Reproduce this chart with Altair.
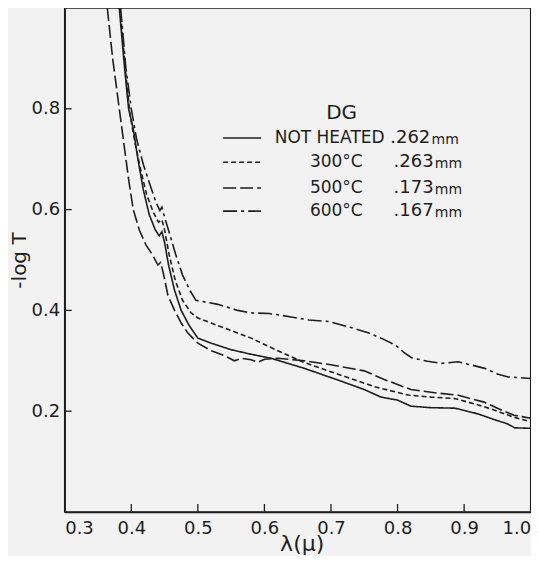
import altair as alt
import pandas as pd

# ---- curve data ----
sol_x = [0.382,0.390,0.396,0.403,0.410,0.418,0.427,0.436,0.442,0.446,0.450,0.456,0.465,0.475,0.487,0.500,0.520,0.550,0.580,0.610,0.660,0.710,0.750,0.775,0.800,0.820,0.850,0.886,0.920,0.946,0.965,0.976,1.000]
sol_y = [1.000,0.880,0.800,0.760,0.700,0.640,0.590,0.560,0.548,0.556,0.535,0.490,0.440,0.400,0.370,0.345,0.335,0.322,0.313,0.305,0.285,0.262,0.243,0.228,0.222,0.210,0.207,0.206,0.195,0.183,0.175,0.167,0.166]

sd_x = [0.383,0.391,0.398,0.406,0.414,0.423,0.433,0.441,0.446,0.450,0.457,0.466,0.477,0.490,0.500,0.520,0.550,0.580,0.607,0.657,0.707,0.767,0.816,0.850,0.886,0.920,0.946,0.975,1.000]
sd_y = [1.000,0.880,0.790,0.730,0.680,0.630,0.595,0.575,0.580,0.560,0.510,0.460,0.420,0.395,0.385,0.375,0.360,0.345,0.328,0.298,0.275,0.248,0.232,0.228,0.225,0.213,0.202,0.188,0.179]

ld_x = [0.364,0.372,0.380,0.388,0.396,0.403,0.412,0.422,0.432,0.440,0.444,0.448,0.455,0.465,0.475,0.485,0.500,0.520,0.540,0.555,0.565,0.580,0.590,0.600,0.620,0.660,0.700,0.750,0.780,0.820,0.860,0.890,0.930,0.960,0.975,1.000]
ld_y = [1.000,0.900,0.820,0.740,0.660,0.600,0.560,0.530,0.510,0.490,0.495,0.475,0.430,0.400,0.375,0.355,0.335,0.320,0.310,0.300,0.305,0.302,0.297,0.303,0.305,0.300,0.292,0.280,0.263,0.243,0.236,0.232,0.218,0.200,0.192,0.186]

dd_x = [0.384,0.392,0.400,0.408,0.418,0.428,0.437,0.443,0.446,0.450,0.458,0.467,0.477,0.488,0.497,0.505,0.530,0.560,0.580,0.607,0.640,0.667,0.697,0.730,0.757,0.780,0.797,0.810,0.821,0.845,0.866,0.891,0.910,0.931,0.950,0.966,1.000]
dd_y = [1.000,0.880,0.800,0.740,0.690,0.650,0.615,0.598,0.605,0.585,0.550,0.510,0.470,0.440,0.420,0.418,0.412,0.400,0.395,0.394,0.387,0.381,0.378,0.366,0.355,0.342,0.331,0.316,0.306,0.299,0.295,0.298,0.292,0.285,0.274,0.268,0.265]

series_names = ["NOT HEATED", "300°C", "500°C", "600°C"]
thickness = [".262", ".263", ".173", ".167"]
x_ticks = [0.3, 0.4, 0.5, 0.6, 0.7, 0.8, 0.9, 1.0]
y_ticks = [0.2, 0.4, 0.6, 0.8]

rows = []
for name, xs_, ys_ in zip(series_names, [sol_x, sd_x, ld_x, dd_x], [sol_y, sd_y, ld_y, dd_y]):
    for xv, yv in zip(xs_, ys_):
        rows.append({"series": name, "x": xv, "y": yv})
df = pd.DataFrame(rows)

INK = "#1e1e1e"
FONT = "DejaVu Sans"
W, H = 466, 504

dash_scale = alt.Scale(domain=series_names, range=[[1, 0], [5, 3], [13, 4], [14, 4, 3, 4]])
xs = alt.Scale(domain=[0.3, 1.0], nice=False)
ys = alt.Scale(domain=[0.0, 1.0], nice=False)

lines = alt.Chart(df).mark_line(strokeWidth=1.6, color=INK, clip=True).encode(
    x=alt.X("x:Q", scale=xs, axis=alt.Axis(
        values=x_ticks, format=".1f", ticks=False, grid=False,
        labelFontSize=18, labelFont=FONT, labelColor=INK, labelPadding=7,
        domainColor=INK, domainWidth=1.5,
        title="λ(μ)", titleFont=FONT, titleFontSize=22, titleFontWeight="normal",
        titleColor=INK, titleX=237, titleY=31, titleBaseline="middle")),
    y=alt.Y("y:Q", scale=ys, axis=alt.Axis(
        values=y_ticks, format=".1f", ticks=False, grid=False,
        labelFontSize=18, labelFont=FONT, labelColor=INK, labelPadding=5,
        domainColor=INK, domainWidth=1.5,
        title="-log T", titleFont=FONT, titleFontSize=20, titleFontWeight="normal",
        titleColor=INK, titleAngle=270, titleX=-45, titleY=252,
        titleAlign="center", titleBaseline="middle")),
    strokeDash=alt.StrokeDash("series:N", scale=dash_scale, legend=None),
    detail="series:N",
)

# inward tick marks
xt = pd.DataFrame({"x": x_ticks[1:-1]})
x_tick_marks = alt.Chart(xt).mark_rule(color=INK, strokeWidth=1.3).encode(
    x=alt.X("x:Q", scale=xs), y=alt.value(H), y2=alt.value(H - 8))
yt = pd.DataFrame({"y": y_ticks})
y_tick_marks = alt.Chart(yt).mark_rule(color=INK, strokeWidth=1.3).encode(
    y=alt.Y("y:Q", scale=ys), x=alt.value(0), x2=alt.value(7))

# hand-drawn style legend
leg_y = [0.742, 0.694, 0.643, 0.597]
leg = pd.DataFrame({"series": series_names, "thick": thickness, "ly": leg_y,
                    "x0": [0.538] * 4, "x1": [0.595] * 4,
                    "xt": [0.698, 0.708, 0.708, 0.708],
                    "xn": [0.789, 0.794, 0.794, 0.794], "xm": [0.851, 0.856, 0.856, 0.856]})
leg_lines = alt.Chart(leg).mark_rule(strokeWidth=1.6, color=INK).encode(
    x=alt.X("x0:Q", scale=xs), x2="x1:Q", y=alt.Y("ly:Q", scale=ys),
    strokeDash=alt.StrokeDash("series:N", scale=dash_scale, legend=None))
leg_names = alt.Chart(leg).mark_text(font=FONT, fontSize=17, color=INK, align="center", baseline="middle").encode(
    x=alt.X("xt:Q", scale=xs), y=alt.Y("ly:Q", scale=ys), text="series:N")
leg_thick = alt.Chart(leg).mark_text(font=FONT, fontSize=18, color=INK, align="left", baseline="middle").encode(
    x=alt.X("xn:Q", scale=xs), y=alt.Y("ly:Q", scale=ys), text="thick:N")
leg_mm = alt.Chart(leg).mark_text(font=FONT, fontSize=14, color=INK, align="left", baseline="middle", dy=2).encode(
    x=alt.X("xm:Q", scale=xs), y=alt.Y("ly:Q", scale=ys), text=alt.value("mm"))
leg_title = alt.Chart(pd.DataFrame({"t": ["DG"], "x": [0.716], "y": [0.792]})).mark_text(
    font=FONT, fontSize=20, color=INK, align="center", baseline="middle").encode(
    x=alt.X("x:Q", scale=xs), y=alt.Y("y:Q", scale=ys), text="t:N")

chart = alt.layer(lines, x_tick_marks, y_tick_marks, leg_lines, leg_names, leg_thick, leg_mm, leg_title).properties(
    width=W, height=H,
    autosize=alt.AutoSizeParams(type="none"),
    padding={"left": 56.7, "top": 0, "right": 0.3, "bottom": 44},
    background="#f2f2f2",
).configure_view(stroke=INK, strokeWidth=1.5)

chart.save("out.html", embed_options={"renderer": "svg", "actions": False})
